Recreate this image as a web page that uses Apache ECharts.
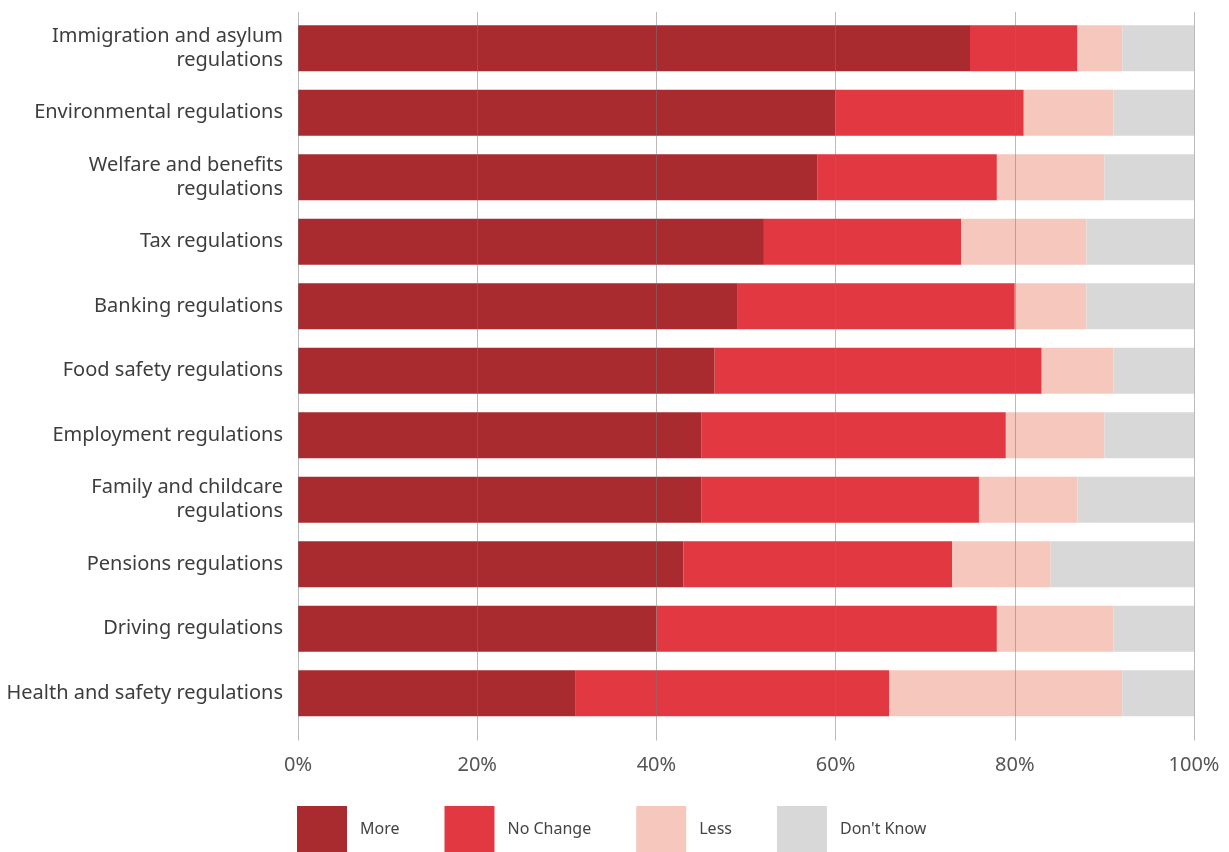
<!DOCTYPE html>
<html>
<head>
<meta charset="utf-8">
<style>
  html, body { margin: 0; padding: 0; background: #fff; }
  #chart { width: 1229px; height: 852px; }
</style>
<script src="https://cdn.jsdelivr.net/npm/echarts@6/dist/echarts.min.js"></script>
</head>
<body>
<div id="chart"></div>
<script>
  // categories, top to bottom
  var categories = [
    'Immigration and asylum\nregulations',
    'Environmental regulations',
    'Welfare and benefits\nregulations',
    'Tax regulations',
    'Banking regulations',
    'Food safety regulations',
    'Employment regulations',
    'Family and childcare\nregulations',
    'Pensions regulations',
    'Driving regulations',
    'Health and safety regulations'
  ];
  // percentages
  var more      = [75, 60, 58, 52, 49, 46.5, 45, 45, 43, 40, 31];
  var noChange  = [12, 21, 20, 22, 31, 36.5, 34, 31, 30, 38, 35];
  var less      = [5, 10, 12, 14, 8, 8, 11, 11, 11, 13, 26];
  var dontKnow  = [8, 9, 10, 12, 12, 9, 10, 13, 16, 9, 8];

  var seriesNames = ['More', 'No Change', 'Less', "Don't Know"];
  var seriesData = [more, noChange, less, dontKnow];
  var colors = ['#a92b30', '#e13841', '#f6c7bd', '#d8d8d8'];

  var font = '"Noto Sans", "Open Sans", sans-serif';
  var gridColor = 'rgba(120,120,120,0.5)';

  var chart = echarts.init(document.getElementById('chart'));
  var option = {
    animation: false,
    color: colors,
    textStyle: { fontFamily: font },
    grid: {
      left: 298,
      right: 35,
      top: 16,
      bottom: 126.5,
      containLabel: false
    },
    legend: {
      data: seriesNames,
      left: 292,
      top: 801,
      icon: 'rect',
      itemWidth: 50,
      itemHeight: 46,
      itemGap: 45,
      selectedMode: false,
      textStyle: {
        fontSize: 16,
        color: '#444',
        padding: [4, 0, 0, 8]
      }
    },
    xAxis: [{
      type: 'value',
      min: 0,
      max: 100,
      interval: 20,
      z: 3,
      axisLine: { show: false },
      axisTick: {
        show: true,
        length: 15,
        lineStyle: { color: gridColor, width: 1 }
      },
      axisLabel: {
        formatter: '{value}%',
        fontSize: 20,
        color: '#555',
        margin: 30
      },
      splitLine: {
        show: true,
        lineStyle: { color: gridColor, width: 1 }
      }
    }, {
      type: 'value',
      position: 'top',
      min: 0,
      max: 100,
      interval: 20,
      z: 3,
      axisLine: { show: false },
      axisTick: {
        show: true,
        length: 4,
        lineStyle: { color: gridColor, width: 1 }
      },
      axisLabel: { show: false },
      splitLine: { show: false }
    }],
    yAxis: {
      type: 'category',
      data: categories,
      inverse: true,
      axisLine: { show: false },
      axisTick: { show: false },
      axisLabel: {
        fontSize: 20,
        color: '#3d3d3d',
        margin: 15,
        lineHeight: 24,
        align: 'right'
      }
    },
    series: seriesNames.map(function (name, i) {
      return {
        name: name,
        type: 'bar',
        stack: 'total',
        barWidth: 46,
        data: seriesData[i],
        itemStyle: { color: colors[i] },
        emphasis: { disabled: true }
      };
    })
  };
  chart.setOption(option);
</script>
</body>
</html>
